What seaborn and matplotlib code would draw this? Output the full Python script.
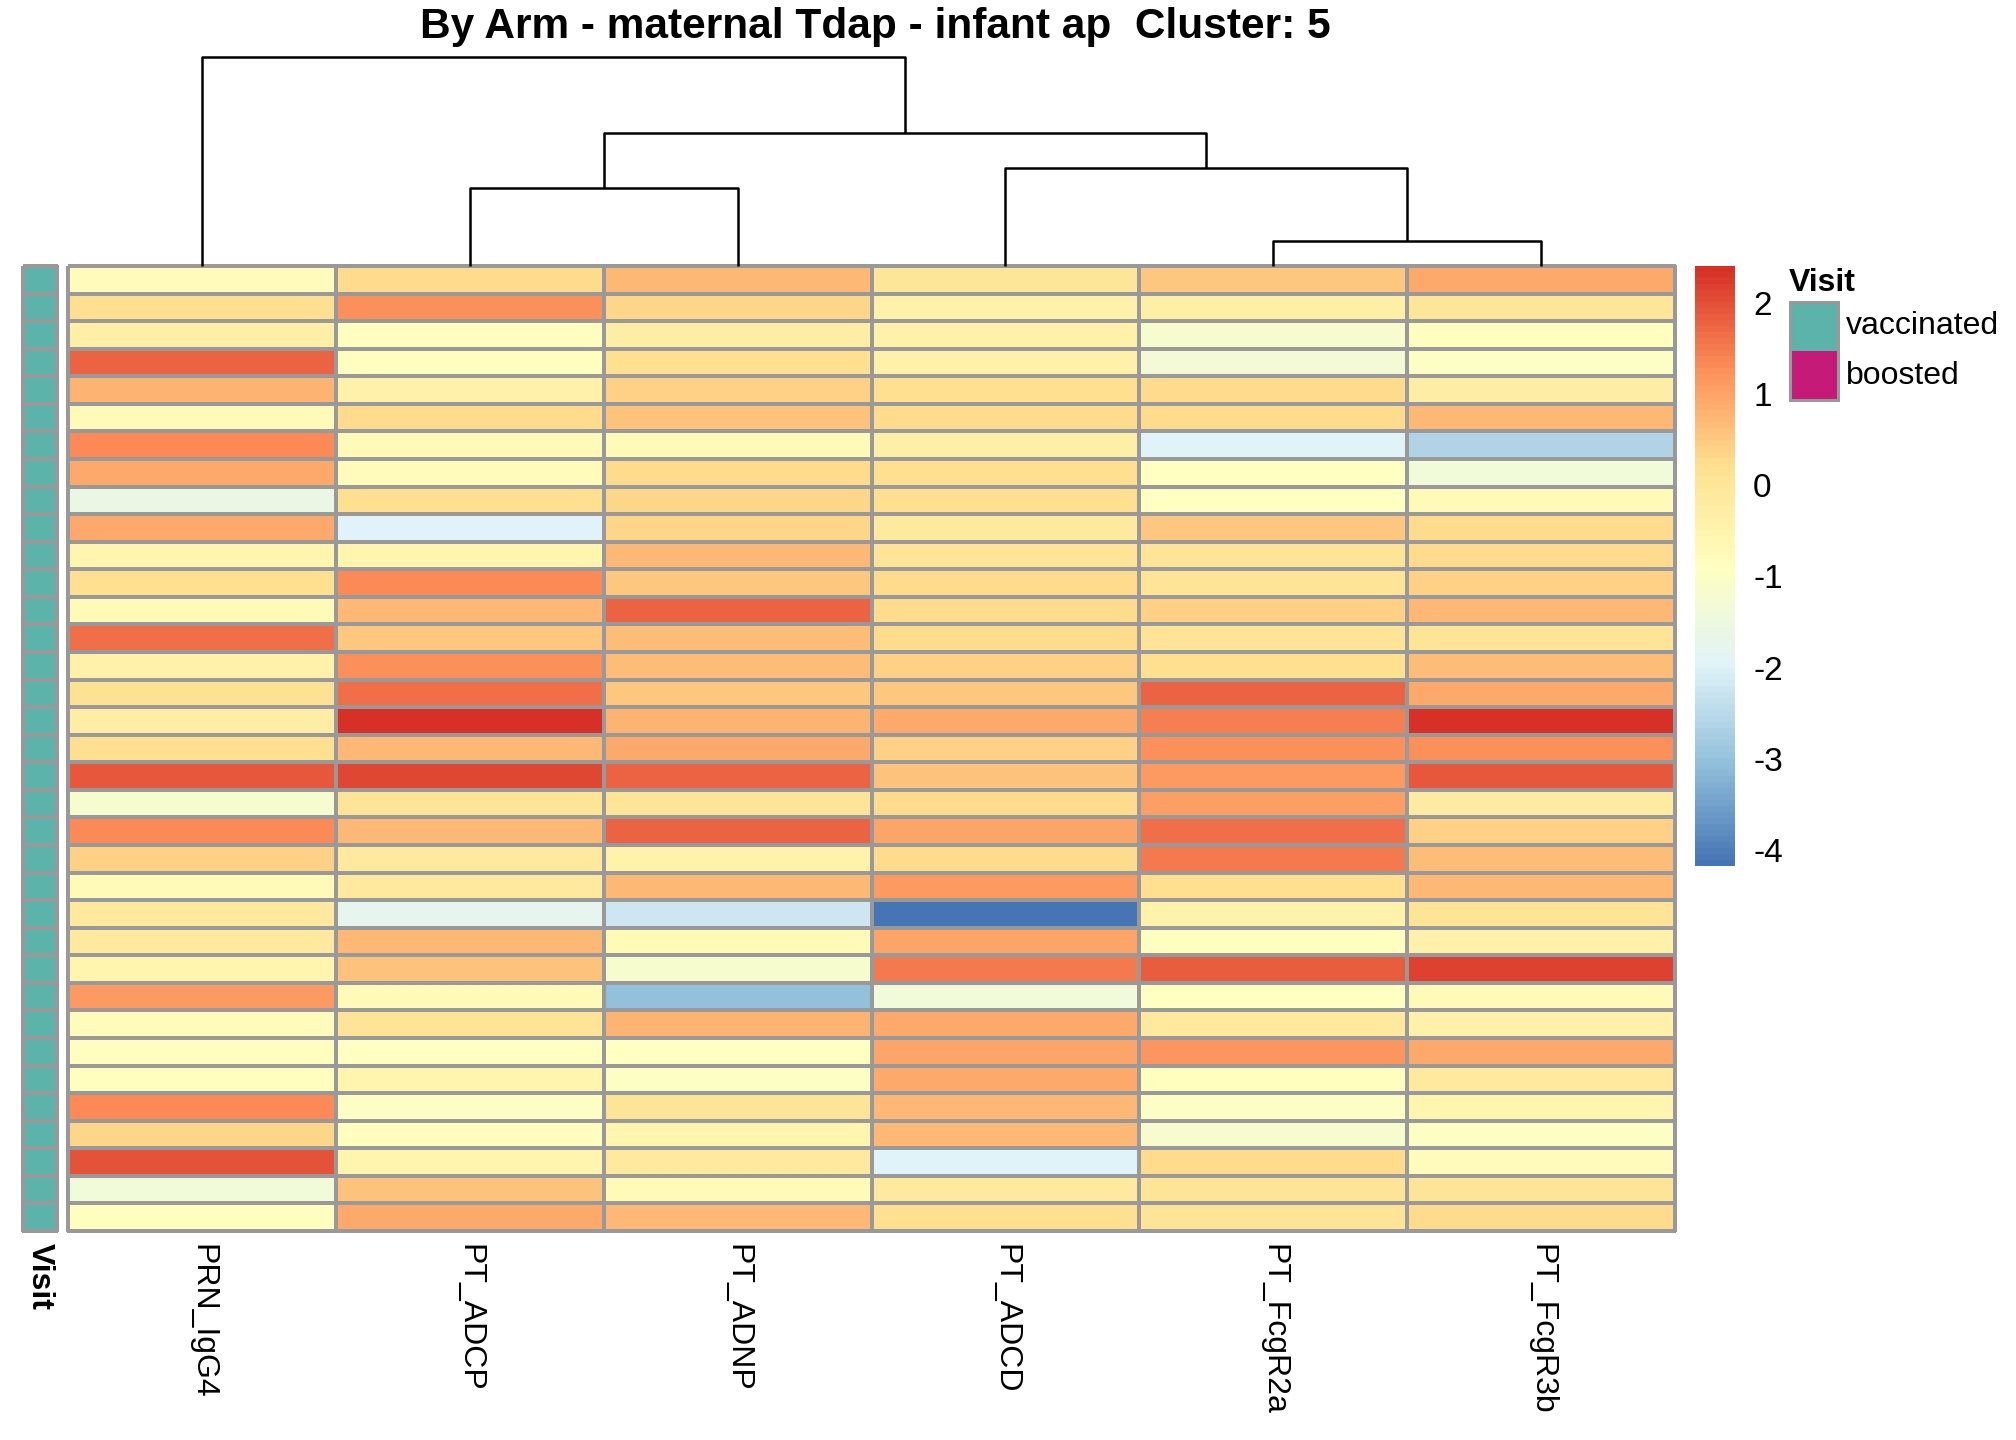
import numpy as np
import pandas as pd
import matplotlib
matplotlib.use("Agg")
import matplotlib.pyplot as plt
import seaborn as sns
from matplotlib.colors import LinearSegmentedColormap, ListedColormap
from matplotlib.patches import Rectangle

# ---------------- data ----------------
columns = ["PRN_IgG4", "PT_ADCP", "PT_ADNP", "PT_ADCD", "PT_FcgR2a", "PT_FcgR3b"]

prn_igg4 = [-0.8, 0.2, -0.3, 1.8, 0.8, -0.7, 1.3, 0.95, -1.55, 0.9, -0.5, 0.2, -0.75, 1.65,
            -0.4, 0.15, -0.25, 0.2, 1.9, -1.2, 1.3, 0.4, -0.7, -0.1, -0.1, -0.5, 1.15, -0.8,
            -0.85, -0.85, 1.3, 0.35, 1.95, -1.4, -0.85]
pt_adcp = [0.25, 1.25, -0.85, -0.85, -0.4, 0.3, -0.75, -0.8, 0.2, -2.0, -0.5, 1.3, 0.7, 0.5,
           1.25, 1.65, 2.4, 0.7, 2.1, 0.1, 0.7, -0.1, -0.15, -1.8, 0.7, 0.6, -0.7, 0.05,
           -0.9, -0.5, -1.0, -0.85, -0.5, 0.6, 0.9]
pt_adnp = [0.7, 0.35, -0.25, 0.2, 0.4, 0.6, -0.75, 0.25, 0.35, 0.35, 0.75, 0.5, 1.8, 0.65,
           0.65, 0.5, 0.8, 0.9, 1.8, 0.1, 1.8, -0.45, 0.7, -2.25, -0.75, -1.15, -3.05, 0.8,
           -0.9, -1.0, 0.1, -0.5, -0.15, -0.75, 0.75]
pt_adcd = [0.0, -0.4, -0.4, -0.4, 0.2, 0.25, -0.3, 0.2, 0.2, -0.15, 0.05, 0.3, 0.25, 0.25,
           0.4, 0.5, 0.9, 0.4, 0.6, 0.25, 1.0, 0.3, 1.15, -4.18, 1.0, 1.55, -1.4, 0.95,
           1.0, 0.9, 0.75, 0.7, -2.0, -0.1, 0.2]
pt_fcgr2a = [0.5, -0.3, -1.2, -1.3, 0.25, 0.3, -2.0, -0.95, -0.95, 0.5, 0.05, 0.1, 0.4, 0.1,
             0.2, 1.8, 1.45, 1.25, 1.15, 1.05, 1.65, 1.55, 0.2, -0.45, -0.85, 1.85, -0.95, -0.1,
             1.2, -0.85, -1.0, -1.15, 0.25, 0.1, 0.05]
pt_fcgr3b = [0.9, 0.0, -0.85, -1.0, -0.25, 0.75, -2.6, -1.4, -0.75, 0.3, 0.25, 0.4, 0.75, 0.05,
             0.65, 0.95, 2.41, 1.25, 1.9, -0.2, 0.4, 0.65, 0.75, 0.1, -0.4, 2.2, -0.75, -0.4,
             0.9, -0.1, -0.5, -1.0, -0.8, 0.1, 0.25]

visit = ["vaccinated"] * 35
visit_levels = ["vaccinated", "boosted"]
visit_colors = ["#5BB3AA", "#C51A78"]

# dendrogram merges over columns (leaves 0..5 in display order): (node_a, node_b, height)
merges = [(4, 5, 25), (1, 2, 78), (3, 6, 98), (7, 8, 133), (0, 9, 209)]

title = "By Arm - maternal Tdap - infant ap  Cluster: 5"
cbar_ticks = [-4, -3, -2, -1, 0, 1, 2]

# ---------------- styling ----------------
sns.set_style("white")
plt.rcParams["font.family"] = ["Liberation Sans", "DejaVu Sans"]
plt.rcParams["axes.unicode_minus"] = False
plt.rcParams["text.color"] = "black"
plt.rcParams["xtick.color"] = "black"
plt.rcParams["ytick.color"] = "black"

W, H = 2016, 1440
fig = plt.figure(figsize=(W / 100, H / 100), dpi=100)


def px_axes(x0, y0, x1, y1):
    return fig.add_axes([x0 / W, 1 - y1 / H, (x1 - x0) / W, (y1 - y0) / H])


grid_col = "#999999"
lw = 1.45

df = pd.DataFrame({c: v for c, v in zip(columns, [prn_igg4, pt_adcp, pt_adnp, pt_adcd, pt_fcgr2a, pt_fcgr3b])})
vmin, vmax = float(df.values.min()), float(df.values.max())
cmap = LinearSegmentedColormap.from_list(
    "rdylbu7", ["#4575B4", "#91BFDB", "#E0F3F8", "#FFFFBF", "#FEE090", "#FC8D59", "#D73027"], N=100)

HX0, HX1, HY0, HY1 = 68, 1675, 266, 1231
ax = px_axes(HX0, HY0, HX1, HY1)
cax = px_axes(1695, 266, 1735, 866)
sns.heatmap(df, ax=ax, cmap=cmap, vmin=vmin, vmax=vmax, linewidths=lw, linecolor=grid_col,
            cbar=True, cbar_ax=cax, yticklabels=False)
ax.collections[0].set_clip_on(False)
ax.tick_params(axis="x", length=0, pad=9, labelsize=23, labelcolor="black")
ax.set_xticklabels(columns, rotation=270, ha="center", va="top")
ax.set_xlabel("")
ax.set_ylabel("")

cbar = ax.collections[0].colorbar
cbar.outline.set_visible(False)
cbar.set_ticks(cbar_ticks)
cbar.ax.tick_params(length=0, pad=13, labelsize=24, labelcolor="black")

# annotation column
codes = np.array([visit_levels.index(v) for v in visit]).reshape(-1, 1)
aax = px_axes(23, HY0, 57, HY1)
sns.heatmap(codes, ax=aax, cmap=ListedColormap(visit_colors), vmin=-0.5, vmax=1.5,
            linewidths=lw, linecolor=grid_col, cbar=False, xticklabels=False, yticklabels=False)
aax.collections[0].set_clip_on(False)
fig.text(40 / W, 1 - 1243 / H, "Visit", rotation=270, ha="center", va="top",
         fontweight="bold", fontsize=23, color="black")

# dendrogram
dax = px_axes(HX0, 57, HX1, HY0)
pos = {i: i + 0.5 for i in range(len(columns))}
hgt = {i: 0.0 for i in range(len(columns))}
node = len(columns)
for a, b, h in merges:
    dax.plot([pos[a], pos[a], pos[b], pos[b]], [hgt[a], h, h, hgt[b]], color="black",
             lw=1.8, solid_capstyle="butt", clip_on=False)
    pos[node] = (pos[a] + pos[b]) / 2
    hgt[node] = h
    node += 1
dax.set_xlim(0, len(columns))
dax.set_ylim(0, max(m[2] for m in merges))
dax.axis("off")

# Visit legend
lax = px_axes(1780, 250, 2016, 420)
lax.set_xlim(1780, 2016)
lax.set_ylim(420, 250)
lax.axis("off")
lax.text(1789, 283, "Visit", fontweight="bold", fontsize=23, ha="left", va="center", color="black")
box_h = 49
for i, (lab, col) in enumerate(zip(visit_levels, visit_colors)):
    y0 = 302 + i * box_h
    lax.add_patch(Rectangle((1790, y0), 48, box_h, facecolor=col, edgecolor="none"))
    lax.text(1846, y0 + box_h / 2, lab, fontsize=23, ha="left", va="center", color="black")
lax.add_patch(Rectangle((1790, 302), 48, box_h * len(visit_levels), facecolor="none",
                        edgecolor=grid_col, lw=2.2, clip_on=False))

fig.text(875 / W, 1 - 27 / H, title, ha="center", va="center", fontweight="bold",
         fontsize=30.5, color="black")

fig.savefig("out.png", dpi=100)
